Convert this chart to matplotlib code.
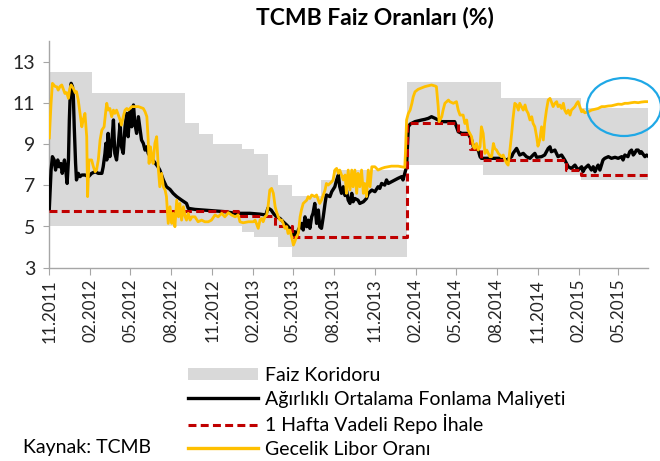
import numpy as np
import pandas as pd
import matplotlib
matplotlib.use("Agg")
import matplotlib.pyplot as plt
from matplotlib.patches import Patch, Ellipse
from matplotlib.lines import Line2D
import matplotlib.dates as mdates

plt.rcParams['font.family'] = ['Lato', 'DejaVu Sans']

START = "2011-11-01"
END_DAY = 1344

# Faiz koridoru (step changes, days since START)
corr_days = [0, 95, 305, 336, 368, 432, 459, 491, 514, 544, 611, 637, 802, 973, 1014, 1193, 1344]
corr_upper = [12.5, 11.5, 10.0, 9.5, 9.0, 8.75, 8.5, 7.5, 7.0, 6.5, 7.25, 7.75, 12.0, 12.0, 11.25, 10.75, 10.75]
corr_lower = [5.0, 5.0, 5.0, 5.0, 5.0, 4.75, 4.5, 4.5, 4.0, 3.5, 3.5, 3.5, 8.0, 7.5, 7.5, 7.25, 7.25]

# 1 Hafta Vadeli Repo Ihale (step changes)
repo_days = [0, 423, 506, 544, 802, 917, 945, 968, 1159, 1193, 1344]
repo_vals = [5.75, 5.5, 5.0, 4.5, 10.0, 9.5, 8.75, 8.25, 7.75, 7.5, 7.5]

# Agirlikli Ortalama Fonlama Maliyeti
black_days = [0, 4, 7, 11, 14, 19, 22, 26, 29, 34, 37, 40, 43, 45, 47, 49, 52, 54, 56, 59,
              61, 65, 69, 73, 80, 88, 95, 103, 110, 118, 121, 125, 127, 129, 132, 136, 140, 144, 147, 151,
              155, 159, 162, 166, 170, 174, 177, 181, 185, 189, 192, 196, 200, 204, 207, 211, 215, 219, 222, 230,
              237, 244, 248, 256, 263, 271, 278, 286, 297, 308, 312, 327, 357, 394, 417, 450, 473, 486, 491, 498,
              503, 510, 518, 525, 533, 540, 544, 548, 551, 555, 559, 563, 566, 570, 574, 578, 581, 585, 589, 592,
              596, 600, 604, 607, 611, 615, 619, 622, 630, 634, 641, 645, 649, 652, 656, 660, 664, 667, 671, 675,
              679, 682, 686, 693, 697, 705, 712, 716, 724, 731, 738, 742, 746, 753, 757, 761, 768, 776, 783, 791,
              794, 798, 802, 806, 810, 821, 836, 843, 851, 858, 866, 873, 881, 899, 910, 914, 918, 926, 940, 948,
              952, 955, 963, 967, 970, 985, 1015, 1027, 1038, 1041, 1049, 1056, 1064, 1071, 1079, 1086, 1090, 1094, 1105, 1112,
              1120, 1124, 1127, 1135, 1142, 1150, 1157, 1165, 1172, 1180, 1187, 1195, 1198, 1202, 1210, 1217, 1221, 1225, 1228, 1232,
              1236, 1243, 1247, 1255, 1262, 1270, 1277, 1285, 1288, 1292, 1299, 1303, 1307, 1311, 1314, 1318, 1322, 1326, 1329, 1337,
              1341, 1344]
black_vals = [5.85, 7.74, 8.39, 8.23, 7.74, 8.23, 7.9, 8.06, 7.58, 8.23, 7.74, 7.09, 8.23, 10.17, 11.46, 11.95, 11.79, 11.3, 9.84, 8.06,
              7.26, 7.58, 7.42, 7.5, 7.5, 7.42, 7.58, 7.66, 7.58, 7.58, 7.9, 8.55, 9.04, 8.23, 9.52, 8.39, 9.04, 10.17, 8.55, 8.23,
              9.04, 10.01, 8.87, 8.55, 9.84, 10.49, 9.36, 10.65, 9.84, 10.9, 10.01, 9.52, 10.33, 9.68, 9.2, 9.04, 8.71, 8.87, 8.55, 8.3,
              8.1, 7.9, 7.74, 7.26, 6.93, 6.8, 6.61, 6.45, 6.28, 6.12, 5.88, 5.83, 5.78, 5.72, 5.64, 5.64, 5.6, 5.56, 5.9, 5.8,
              5.64, 5.47, 5.39, 5.23, 5.07, 4.91, 4.83, 4.58, 4.75, 4.5, 4.83, 4.99, 5.15, 4.83, 5.47, 4.99, 5.31, 4.91, 5.47, 5.64,
              6.12, 5.15, 5.8, 4.99, 4.91, 5.47, 6.12, 6.53, 6.45, 6.69, 6.93, 7.26, 7.5, 6.93, 6.61, 6.93, 6.5, 6.77, 6.28, 6.12,
              6.61, 6.2, 6.36, 6.28, 6.12, 6.2, 6.36, 6.61, 6.77, 6.69, 6.93, 6.85, 7.09, 7.01, 7.26, 7.09, 7.17, 7.26, 7.34, 7.42,
              7.26, 7.58, 7.9, 9.84, 9.97, 10.09, 10.17, 10.2, 10.25, 10.33, 10.25, 10.17, 10.09, 10.09, 10.09, 9.84, 9.6, 9.52, 9.52, 9.2,
              8.87, 8.79, 8.71, 8.39, 8.31, 8.31, 8.31, 8.23, 8.39, 8.55, 8.79, 8.47, 8.55, 8.39, 8.31, 8.47, 8.55, 8.36, 8.39, 8.47,
              8.79, 8.87, 8.63, 8.71, 8.39, 8.47, 8.23, 7.9, 7.82, 7.98, 7.74, 7.9, 7.66, 7.82, 7.98, 7.74, 7.9, 7.66, 7.82, 7.98,
              7.74, 8.23, 8.31, 8.39, 8.31, 8.36, 8.31, 8.39, 8.23, 8.47, 8.39, 8.63, 8.71, 8.47, 8.55, 8.71, 8.71, 8.55, 8.63, 8.39,
              8.47, 8.42]

# Gecelik Libor Orani
libor_days = [0, 4, 7, 13, 17, 20, 24, 28, 31, 35, 39, 43, 46, 49, 54, 58, 61, 65, 69, 73,
              76, 80, 84, 86, 89, 95, 99, 103, 106, 110, 114, 118, 123, 127, 129, 132, 136, 140, 144, 147,
              151, 155, 159, 162, 166, 170, 174, 177, 181, 185, 200, 211, 215, 219, 222, 224, 227, 230, 233, 237,
              241, 245, 248, 252, 256, 260, 263, 267, 271, 275, 278, 282, 286, 290, 293, 297, 301, 305, 308, 312,
              316, 320, 327, 334, 342, 349, 357, 364, 372, 379, 387, 394, 402, 409, 417, 424, 428, 435, 447, 458,
              462, 465, 469, 473, 477, 480, 484, 488, 491, 495, 499, 503, 507, 510, 514, 518, 522, 525, 529, 533,
              536, 540, 544, 548, 551, 555, 559, 563, 566, 570, 578, 581, 585, 589, 596, 600, 604, 607, 611, 615,
              619, 622, 626, 630, 634, 637, 641, 645, 649, 652, 656, 660, 664, 667, 671, 675, 679, 682, 686, 690,
              693, 697, 701, 705, 708, 712, 716, 720, 724, 731, 738, 746, 753, 768, 783, 798, 800, 802, 806, 810,
              814, 817, 821, 828, 843, 858, 866, 869, 873, 875, 881, 884, 888, 896, 899, 907, 914, 918, 922, 929,
              933, 937, 940, 944, 948, 952, 955, 959, 963, 967, 970, 974, 978, 982, 989, 993, 997, 1000, 1004, 1008,
              1015, 1019, 1023, 1027, 1030, 1034, 1038, 1041, 1045, 1049, 1053, 1056, 1060, 1064, 1068, 1071, 1075, 1079, 1083, 1086,
              1090, 1094, 1097, 1101, 1105, 1109, 1112, 1116, 1120, 1124, 1127, 1131, 1135, 1139, 1142, 1146, 1150, 1154, 1157, 1161,
              1165, 1169, 1172, 1176, 1180, 1184, 1187, 1191, 1195, 1198, 1202, 1210, 1217, 1225, 1232, 1240, 1247, 1255, 1262, 1270,
              1277, 1285, 1292, 1299, 1307, 1314, 1322, 1329, 1337, 1344]
libor_vals = [9.3, 11.0, 11.95, 11.8, 11.78, 11.62, 11.8, 11.87, 11.7, 11.46, 11.5, 11.22, 11.7, 11.87, 11.7, 11.5, 11.55, 11.14, 10.49, 9.84,
              10.17, 10.49, 9.36, 6.45, 8.23, 8.23, 7.9, 7.66, 7.74, 8.23, 9.2, 9.68, 9.84, 10.65, 10.98, 10.65, 10.73, 10.33, 10.65, 10.49,
              10.65, 10.41, 10.17, 9.92, 10.33, 10.65, 10.73, 10.65, 10.73, 10.82, 10.82, 10.73, 10.57, 10.33, 9.2, 8.06, 8.87, 8.39, 8.06, 9.04,
              9.36, 7.74, 6.93, 7.58, 6.93, 6.77, 6.45, 5.15, 5.96, 5.15, 5.64, 4.99, 6.28, 5.47, 6.12, 5.31, 5.96, 5.47, 5.31, 5.64,
              5.31, 5.47, 5.47, 5.23, 5.31, 5.23, 5.23, 5.31, 5.56, 5.47, 5.64, 5.47, 5.67, 5.56, 5.47, 5.56, 5.23, 5.18, 5.23, 5.23,
              5.31, 5.15, 4.91, 5.31, 5.39, 5.23, 5.47, 5.56, 5.96, 6.77, 6.85, 6.61, 5.96, 5.72, 5.47, 5.31, 5.31, 5.15, 4.91, 4.99,
              4.66, 4.83, 4.5, 4.1, 4.26, 4.5, 4.66, 5.47, 5.8, 6.12, 6.28, 6.45, 6.36, 6.53, 6.45, 6.53, 6.28, 6.12, 6.28, 6.53,
              6.77, 7.09, 7.01, 7.09, 7.17, 7.26, 7.74, 7.82, 7.58, 7.74, 7.5, 7.26, 7.5, 6.61, 7.74, 6.77, 7.74, 6.93, 7.74, 6.61,
              7.58, 6.93, 7.74, 6.61, 7.09, 6.45, 7.74, 6.93, 7.9, 7.9, 7.74, 7.82, 7.87, 7.93, 7.93, 7.87, 8.87, 10.17, 10.49, 10.65,
              10.98, 11.3, 11.54, 11.66, 11.79, 11.87, 11.82, 11.79, 10.82, 10.09, 10.33, 10.65, 10.98, 11.14, 11.06, 10.98, 11.06, 10.65, 10.41, 10.41,
              10.0, 10.17, 9.68, 9.52, 9.36, 8.87, 8.79, 9.03, 8.71, 8.87, 9.84, 9.52, 8.55, 8.71, 8.39, 8.39, 9.03, 8.79, 8.71, 8.55,
              8.39, 8.47, 8.23, 8.06, 7.98, 8.71, 9.52, 10.25, 10.98, 10.9, 10.65, 10.98, 10.82, 10.65, 10.9, 10.65, 10.49, 10.17, 10.33, 10.01,
              9.84, 9.36, 8.9, 9.2, 9.84, 9.2, 10.01, 10.65, 11.14, 11.22, 11.06, 10.82, 10.98, 11.06, 10.82, 10.9, 10.73, 10.98, 10.65, 10.49,
              10.65, 10.41, 10.65, 10.73, 10.82, 10.98, 11.06, 10.82, 10.57, 10.65, 10.52, 10.57, 10.65, 10.69, 10.73, 10.82, 10.82, 10.85, 10.86, 10.9,
              10.94, 10.93, 10.98, 10.98, 11.01, 11.03, 11.01, 11.04, 11.06, 11.06]

labels = ["Faiz Koridoru", "Ağırlıklı Ortalama Fonlama Maliyeti",
          "1 Hafta Vadeli Repo İhale", "Gecelik Libor Oranı"]
title = "TCMB Faiz Oranları (%)"
source = "Kaynak: TCMB"

base = pd.Timestamp(START)
def to_dates(days):
    return (base + pd.to_timedelta(np.asarray(days), unit="D")).to_numpy()

W, H = 660, 461
fig = plt.figure(figsize=(W / 100, H / 100), dpi=100)
ax = fig.add_axes([49.3 / W, 1 - 267.7 / H, (648 - 49.3) / W, (267.7 - 41.1) / H])

GRAY = "#d9d9d9"
BLACK = "#000000"
RED = "#c00000"
ORANGE = "#ffc000"

ax.fill_between(to_dates(corr_days), corr_lower, corr_upper, step="post",
                color=GRAY, lw=0, zorder=1)
ax.plot(to_dates(black_days), black_vals, color=BLACK, lw=2.4, zorder=3,
        solid_joinstyle="round")
ax.step(to_dates(repo_days), repo_vals, where="post", color=RED, lw=2.2,
        dashes=(2.6, 1.4), zorder=4)
ax.plot(to_dates(libor_days), libor_vals, color=ORANGE, lw=2.0, zorder=5,
        solid_joinstyle="round")

ax.set_ylim(3, 14)
ax.set_yticks([3, 5, 7, 9, 11, 13])
ax.set_xlim(base, base + pd.Timedelta(days=END_DAY))
ticks = pd.date_range("2011-11-01", "2015-05-01", freq="3MS")
ax.set_xticks(ticks.to_numpy())
ax.xaxis.set_major_formatter(mdates.DateFormatter("%m.%Y"))
for lab in ax.get_xticklabels():
    lab.set_rotation(90)

for s in ["top", "right"]:
    ax.spines[s].set_visible(False)
for s in ["left", "bottom"]:
    ax.spines[s].set_color("#a6a6a6")
    ax.spines[s].set_linewidth(1.0)
ax.tick_params(axis="y", direction="out", length=4, color="#a6a6a6",
               labelsize=14, labelcolor="#262626", pad=6)
ax.tick_params(axis="x", direction="out", length=5, color="#a6a6a6",
               labelsize=12.3, labelcolor="#262626", pad=3)
ax.patch.set_visible(False)

fig.text(375 / W, 1 - 18 / H, title, ha="center", va="center",
         fontsize=16.5, fontweight="bold", color="black")

handles = [Patch(facecolor=GRAY, edgecolor="none"),
           Line2D([], [], color=BLACK, lw=2.4),
           Line2D([], [], color=RED, lw=2.2, dashes=(2.6, 1.4)),
           Line2D([], [], color=ORANGE, lw=2.4)]
fig.legend(handles, labels, loc="upper left",
           bbox_to_anchor=(188 / W, 1 - 367 / H), frameon=False,
           fontsize=14, handlelength=3.6, handletextpad=0.36,
           labelspacing=0.34, borderpad=0, borderaxespad=0, handleheight=0.62)

fig.text(23 / W, 1 - 447 / H, source, ha="left", va="center",
         fontsize=14, color="black")

fig.add_artist(Ellipse((624 / W, 1 - 107 / H), 74 / W, 58 / H,
                       transform=fig.transFigure, fill=False,
                       edgecolor="#1fa8e6", lw=1.6))

fig.savefig("out.png", dpi=100)
